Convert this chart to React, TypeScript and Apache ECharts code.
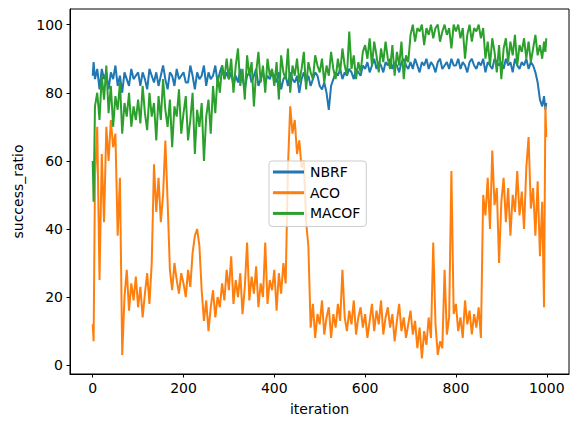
import React, { useEffect, useRef } from "react";
import * as echarts from "echarts";

const ITER: number[] = [0, 2, ...Array.from({ length: 198 }, (_, k) => 5 + 5 * k), 994, 997, 999];

const NBRF: number[] = [
  85, 89, 84, 87, 81, 87, 84, 86, 81, 86, 84, 88, 82, 85, 80, 86, 84, 82, 87, 84, 85,
  86, 82, 86, 84, 81, 87, 85, 83, 86, 82, 85, 88, 84, 81, 86, 85, 82, 87, 84, 85,
  86, 83, 83, 88, 85, 81, 86, 84, 85, 88, 82, 86, 84, 85, 88, 83, 86, 88, 84, 86,
  84, 86, 82, 85, 83, 87, 84, 81, 85, 86, 83, 85, 87, 82, 84, 86, 83, 85, 84, 86,
  85, 83, 86, 81, 84, 85, 82, 86, 84, 83, 85, 80, 84, 86, 83, 85, 82, 84, 86, 85,
  82, 81, 83, 80, 75, 82, 84, 86, 85, 87, 84, 86, 85, 87, 86, 84, 87, 86, 85, 88,
  87, 89, 86, 88, 90, 87, 89, 88, 86, 89, 88, 90, 87, 89, 88, 86, 89, 90, 88, 87,
  89, 87, 90, 88, 86, 89, 88, 90, 87, 89, 88, 86, 89, 90, 87, 88, 89, 87, 90, 88,
  88, 90, 87, 89, 88, 86, 89, 90, 88, 87, 89, 88, 90, 86, 89, 88, 87, 90, 89, 88,
  89, 87, 90, 88, 89, 86, 90, 88, 87, 89, 88, 90, 87, 89, 88, 86, 83, 78, 76, 79, 75, 77,
];

const ACO: number[] = [
  12, 7, 55, 70, 25, 62, 42, 70, 60, 72, 64, 68, 38, 55, 3, 20, 28, 16, 24, 19, 26,
  17, 23, 14, 21, 27, 18, 30, 59, 45, 55, 42, 50, 66, 48, 28, 22, 30, 25, 21, 27,
  24, 20, 28, 23, 33, 38, 40, 35, 22, 13, 19, 10, 17, 22, 14, 20, 17, 24, 19, 28,
  22, 32, 18, 25, 20, 27, 15, 23, 36, 19, 26, 21, 29, 17, 24, 20, 36, 18, 25, 22,
  28, 16, 27, 21, 30, 24, 58, 76, 68, 72, 62, 66, 58, 60, 42, 35, 11, 18, 8, 15,
  12, 19, 9, 14, 17, 8, 15, 11, 18, 13, 28, 14, 10, 16, 12, 19, 9, 14, 17, 11,
  15, 8, 13, 18, 10, 16, 12, 19, 9, 14, 17, 11, 15, 7, 13, 18, 10, 14, 8, 12,
  16, 9, 13, 5, 11, 2, 10, 6, 14, 8, 36, 12, 3, 7, 5, 28, 9, 14, 57, 15,
  18, 10, 14, 8, 19, 12, 16, 9, 15, 11, 17, 8, 50, 44, 55, 40, 63, 47, 52, 30,
  48, 55, 42, 52, 38, 50, 45, 57, 44, 51, 40, 58, 67, 46, 52, 38, 54, 32, 48, 17, 76, 67,
];

const MACOF: number[] = [
  60, 48, 76, 80, 72, 85, 78, 88, 74, 82, 70, 79, 75, 83, 68, 77, 73, 80, 70, 76, 72,
  78, 71, 82, 74, 69, 80, 73, 77, 66, 79, 72, 84, 75, 70, 78, 64, 76, 73, 81, 68,
  74, 79, 66, 72, 80, 62, 75, 70, 77, 60, 73, 78, 68, 82, 74, 85, 80, 88, 84, 90,
  84, 90, 80, 88, 93, 82, 87, 78, 91, 85, 89, 76, 86, 92, 83, 88, 80, 90, 85, 87,
  82, 89, 78, 91, 86, 84, 93, 80, 88, 85, 90, 83, 87, 92, 81, 89, 86, 84, 91, 88,
  86, 90, 83, 88, 85, 92, 87, 84, 90, 86, 93, 88, 85, 98, 87, 91, 84, 89, 86, 92,
  94, 90, 96, 88, 95, 91, 86, 93, 89, 95, 90, 87, 94, 85, 92, 88, 95, 84, 91, 89,
  97, 100, 95, 99, 98, 100, 94, 99, 97, 100, 96, 99, 100, 95, 98, 100, 97, 99, 93, 100,
  98, 100, 96, 99, 90, 97, 100, 95, 99, 98, 100, 96, 99, 90, 95, 88, 96, 92, 86, 94,
  84, 93, 96, 89, 95, 91, 97, 88, 94, 92, 96, 90, 95, 89, 93, 97, 91, 94, 90, 95, 92, 96,
];

const X_TICKS = [0, 200, 400, 600, 800, 1000];
const Y_TICKS = [0, 20, 40, 60, 80, 100];
const SERIES_NAMES = ["NBRF", "ACO", "MACOF"];
const COLORS = ["#1f77b4", "#ff7f0e", "#2ca02c"];

const FONT = "DejaVu Sans";

export default function App() {
  const ref = useRef<HTMLDivElement>(null);
  useEffect(() => {
    if (!ref.current) return;
    const chart = echarts.init(ref.current, undefined, { renderer: "svg" });
    const all = [NBRF, ACO, MACOF];
    chart.setOption({
      animation: false,
      backgroundColor: "#ffffff",
      grid: {
        left: 70,
        right: 3,
        top: 9,
        bottom: 43,
        show: true,
        borderColor: "#000",
        borderWidth: 1,
        backgroundColor: "#fff",
      },
      legend: {
        data: SERIES_NAMES,
        orient: "vertical",
        left: 269,
        top: 161,
        icon: "rect",
        itemWidth: 31,
        itemHeight: 3,
        itemGap: 4.7,
        itemStyle: { borderWidth: 0 },
        padding: [3, 6, 5, 4],
        backgroundColor: "rgba(255,255,255,0.8)",
        borderColor: "#cccccc",
        borderWidth: 1,
        borderRadius: 3,
        selectedMode: false,
        textStyle: { fontFamily: FONT, fontSize: 14, color: "#000", lineHeight: 16, padding: [0, 0, 0, 1] },
      },
      xAxis: {
        type: "value",
        min: -50,
        max: 1049,
        name: "iteration",
        nameLocation: "middle",
        nameGap: 28,
        nameTextStyle: { fontFamily: FONT, fontSize: 14, color: "#000" },
        axisLine: { show: true, onZero: false, lineStyle: { color: "#000", width: 1 } },
        axisTick: { show: true, length: 3.5, lineStyle: { color: "#000" }, customValues: X_TICKS },
        axisLabel: {
          fontFamily: FONT,
          fontSize: 14,
          color: "#000",
          margin: 7,
          customValues: X_TICKS,
          formatter: (v: number) => String(v),
        },
        splitLine: { show: false },
      },
      yAxis: {
        type: "value",
        min: -2.6,
        max: 104.6,
        name: "success_ratio",
        nameLocation: "middle",
        nameGap: 42,
        nameTextStyle: { fontFamily: FONT, fontSize: 14, color: "#000" },
        axisLine: { show: true, onZero: false, lineStyle: { color: "#000", width: 1 } },
        axisTick: { show: true, length: 3.5, lineStyle: { color: "#000" }, customValues: Y_TICKS },
        axisLabel: {
          fontFamily: FONT,
          fontSize: 14,
          color: "#000",
          margin: 7,
          customValues: Y_TICKS,
          formatter: (v: number) => String(v),
        },
        splitLine: { show: false },
      },
      series: SERIES_NAMES.map((name, s) => ({
        name,
        type: "line",
        data: ITER.map((it, k) => [it, all[s][k]]),
        showSymbol: false,
        symbol: "none",
        color: COLORS[s],
        lineStyle: { width: 2, color: COLORS[s] },
        emphasis: { disabled: true },
      })),
    });
    return () => chart.dispose();
  }, []);
  return (
    <div
      ref={ref}
      style={{ position: "fixed", left: 0, top: 0, width: 572, height: 421, background: "#fff" }}
    />
  );
}
